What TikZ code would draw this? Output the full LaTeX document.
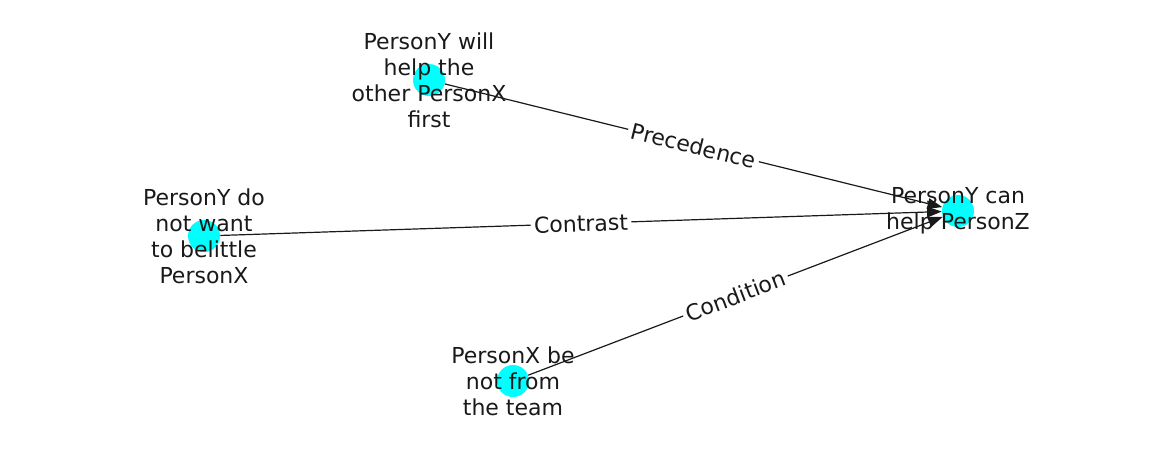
\documentclass[tikz,border=0pt]{standalone}
\usepackage{fontspec}
\setmainfont{DejaVu Sans}
\usetikzlibrary{arrows.meta}
\definecolor{nodecyan}{RGB}{0,255,255}
\begin{document}
\begin{tikzpicture}[x=0.75pt,y=-0.75pt,
  dot/.style={circle,fill=nodecyan,draw=none,minimum size=24pt,inner sep=0pt},
  txt/.style={align=center,font=\fontsize{16.5pt}{19.5pt}\selectfont,text=black!90,inner sep=0pt},
  edge/.style={draw=black!90,line width=0.9pt,-{Triangle[length=11pt,width=8pt]}},
  elab/.style={fill=white,inner sep=2.5pt,font=\fontsize{16.5pt}{19.5pt}\selectfont,text=black!90,sloped}]
\useasboundingbox (0,0) rectangle (1162,462);
\node[dot] (a) at (429,80) {};
\node[dot] (b) at (204,236) {};
\node[dot] (c) at (513,381) {};
\node[dot] (t) at (958,211) {};
\draw[edge] (a) -- (t) node[elab,midway] {Precedence};
\draw[edge] (b) -- (t) node[elab,midway] {Contrast};
\draw[edge] (c) -- (t) node[elab,midway] {Condition};
\node[txt] (la) at (429,80) {PersonY will\\help the\\other PersonX\\first};
\node[txt] (lb) at (204,236) {PersonY do\\not want\\to belittle\\PersonX};
\node[txt] (lc) at (513,381) {PersonX be\\not from\\the team};
\node[txt] (lt) at (958,211) {PersonY can\\help PersonZ};
\end{tikzpicture}
\end{document}
